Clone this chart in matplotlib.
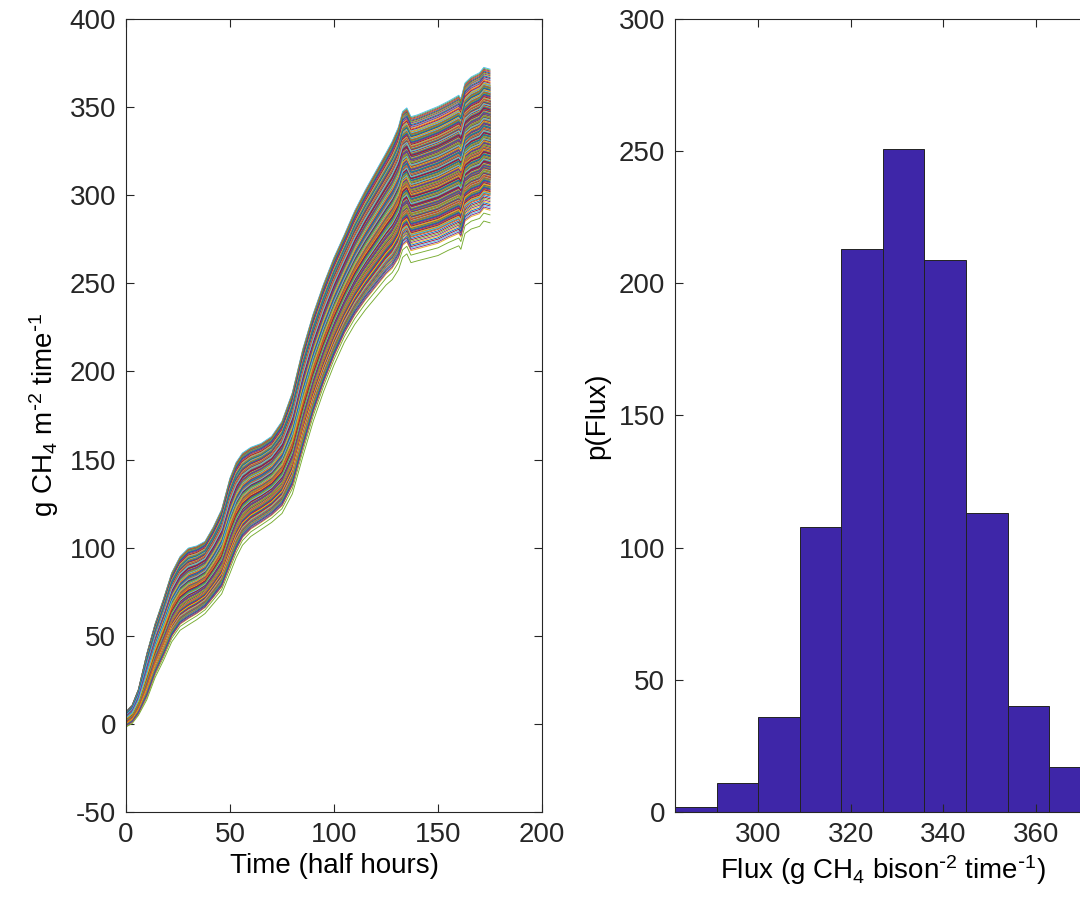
import numpy as np
import matplotlib
matplotlib.use("Agg")
import matplotlib.pyplot as plt

# ---- data ----
# simulated cumulative flux: middle of the bundle and how far the bundle is spread
# (fraction of the final spread) at each time step
time_steps = [0, 3, 6, 10, 14, 18, 22, 26, 30, 34, 38, 42, 46, 50, 53, 56, 60, 65, 70,
              75, 80, 85, 90, 95, 100, 105, 110, 115, 120, 125, 128, 131, 133, 135,
              137, 140, 145, 150, 155, 160, 161, 163, 166, 170, 172, 175]
mid_flux = [3, 6, 13, 28, 43, 55, 68, 76, 80, 82, 85, 92, 100, 115, 124, 130, 134, 137,
            141, 148, 162, 185, 205, 222, 237, 250, 262, 272, 281, 290, 295, 302, 310,
            312, 307, 308, 310, 312, 315, 318, 316, 325, 328, 330, 333, 332]
spread_frac = [0.1, 0.12, 0.17, 0.3, 0.35, 0.4, 0.45, 0.48, 0.5, 0.48, 0.47, 0.5, 0.55,
               0.62, 0.62, 0.6, 0.58, 0.56, 0.56, 0.6, 0.66, 0.7, 0.7, 0.7, 0.7, 0.7,
               0.74, 0.78, 0.82, 0.86, 0.9, 0.93, 0.95, 0.95, 0.95, 0.95, 0.96, 0.97,
               0.97, 0.98, 0.98, 0.98, 0.99, 1.0, 1.0, 1.0]

# histogram of final totals
bin_edges = [282.1, 291.1, 300.0, 309.0, 318.0, 326.9, 335.9, 344.9, 353.9, 362.8, 371.8]
bin_counts = [2, 11, 36, 108, 213, 251, 209, 113, 40, 17]

matlab_colors = ['#0072BD', '#D95319', '#EDB120', '#7E2F8E', '#77AC30', '#4DBEEE', '#A2142F']
bar_color = '#3E26A8'
axis_color = '#262626'

plt.rcParams['font.family'] = ['Liberation Sans', 'DejaVu Sans']
plt.rcParams['mathtext.default'] = 'regular'
plt.rcParams['axes.unicode_minus'] = False

# one final total per simulation, spread evenly inside its histogram bin
finals = []
for lo, hi, c in zip(bin_edges[:-1], bin_edges[1:], bin_counts):
    finals.extend(lo + (hi - lo) * (np.arange(c) + 0.5) / c)
finals = np.array(finals)
n = len(finals)

t = np.array(time_steps)
mid = np.array(mid_flux, dtype=float)
frac = np.array(spread_frac)
paths = mid[:, None] + (finals[None, :] - mid[-1]) * frac[:, None]

# mixed drawing order, lowest two runs put on green slots of the colour cycle
order = list((np.arange(n) * 387) % n)
for rank, slot in ((0, 4), (1, 11)):
    i = order.index(rank)
    order[i], order[slot] = order[slot], order[i]
paths = paths[:, order]

fig = plt.figure(figsize=(10.8, 9.09), dpi=100)
W, H = 1080, 909
ax1 = fig.add_axes([126 / W, 1 - 812 / H, (542 - 126) / W, (812 - 19) / H])
ax2 = fig.add_axes([675 / W, 1 - 812 / H, (1090.6 - 675) / W, (812 - 19) / H])

ax1.set_prop_cycle(color=matlab_colors)
ax1.plot(t, paths, lw=0.65)
ax1.set_xlim(0, 200)
ax1.set_ylim(-50, 400)
ax1.set_xticks([0, 50, 100, 150, 200])
ax1.set_yticks(np.arange(-50, 401, 50))
ax1.set_xlabel('Time (half hours)', fontsize=20, labelpad=4)
ax1.set_ylabel(r'g CH$_4$ m$^{\text{-}2}$ time$^{\text{-}1}$', fontsize=20, labelpad=6)

ax2.bar(bin_edges[:-1], bin_counts, width=np.diff(bin_edges), align='edge',
        color=bar_color, edgecolor='#222222', linewidth=0.7)
ax2.set_xlim(bin_edges[0], bin_edges[-1])
ax2.set_ylim(0, 300)
ax2.set_xticks([300, 320, 340, 360])
ax2.set_yticks(np.arange(0, 301, 50))
ax2.set_xlabel(r'Flux (g CH$_4$ bison$^{\text{-}2}$ time$^{\text{-}1}$)', fontsize=20, labelpad=4)
ax2.set_ylabel('p(Flux)', fontsize=20, labelpad=6)

for ax in (ax1, ax2):
    ax.tick_params(direction='in', length=6, width=0.8, colors=axis_color,
                   labelsize=20, top=True, right=True, pad=7)
    for s in ax.spines.values():
        s.set_color(axis_color)
        s.set_linewidth(0.8)

fig.savefig('out.png', dpi=100)
